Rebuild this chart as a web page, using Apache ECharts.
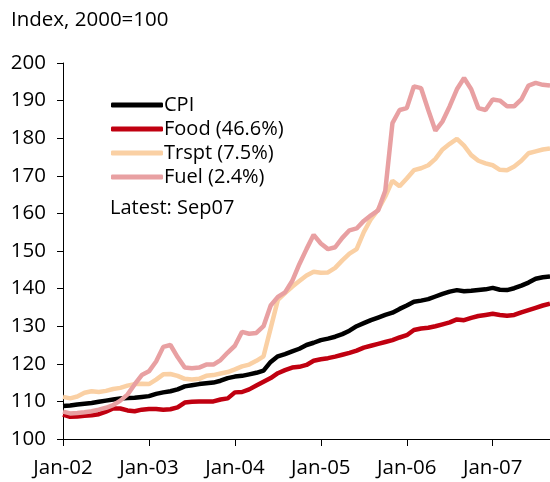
<html>
<head>
<meta charset="utf-8">
<script src="https://cdn.jsdelivr.net/npm/echarts@6/dist/echarts.min.js"></script>
</head>
<body style="margin:0">
<div id="main" style="width:550px; height:482px"></div>
<script type="text/javascript">
// monthly, Jan-02 .. Sep-07
var monthNames = ['Jan', 'Feb', 'Mar', 'Apr', 'May', 'Jun', 'Jul', 'Aug', 'Sep', 'Oct', 'Nov', 'Dec'];
var years = ['02', '03', '04', '05', '06', '07'];

var cpi = [108.8, 108.9, 109.2, 109.4, 109.6, 109.9, 110.2, 110.5, 110.8, 110.9, 111.0, 111.2,
    111.4, 112.0, 112.4, 112.7, 113.2, 114.0, 114.3, 114.6, 114.8, 115.0, 115.5, 116.2,
    116.6, 116.8, 117.2, 117.6, 118.2, 120.5, 122.0, 122.6, 123.3, 124.0, 125.0, 125.6,
    126.3, 126.7, 127.2, 127.9, 128.8, 130.0, 130.8, 131.6, 132.3, 133.0, 133.6, 134.6,
    135.5, 136.5, 136.8, 137.2, 137.9, 138.6, 139.2, 139.6, 139.3, 139.4, 139.6, 139.8,
    140.2, 139.7, 139.6, 140.1, 140.8, 141.6, 142.6, 143.0, 143.2];
var food = [106.5, 105.9, 106.0, 106.2, 106.3, 106.6, 107.3, 108.1, 108.1, 107.6, 107.4, 107.8,
    108.0, 108.0, 107.8, 107.9, 108.4, 109.7, 109.9, 110.0, 110.0, 110.0, 110.5, 110.8,
    112.4, 112.5, 113.2, 114.2, 115.2, 116.2, 117.5, 118.3, 119.0, 119.2, 119.7, 120.8,
    121.2, 121.5, 121.9, 122.4, 122.9, 123.5, 124.3, 124.8, 125.3, 125.8, 126.3, 127.0,
    127.6, 129.0, 129.4, 129.6, 130.0, 130.5, 131.0, 131.8, 131.6, 132.2, 132.7, 133.0,
    133.3, 133.0, 132.8, 133.0, 133.7, 134.3, 134.9, 135.5, 136.0];
var trspt = [111.2, 110.8, 111.3, 112.3, 112.7, 112.5, 112.8, 113.3, 113.6, 114.2, 114.6, 114.7,
    114.6, 115.8, 117.2, 117.3, 116.8, 116.0, 115.8, 116.0, 116.8, 117.0, 117.4, 117.8,
    118.5, 119.3, 119.8, 120.8, 122.0, 129.5, 137.0, 138.8, 140.5, 142.0, 143.5, 144.5,
    144.2, 144.3, 145.5, 147.5, 149.3, 150.5, 155.0, 158.5, 161.0, 164.5, 168.7, 167.2,
    169.3, 171.5, 172.0, 172.8, 174.5, 177.0, 178.5, 179.8, 178.0, 175.5, 174.0, 173.3,
    172.8, 171.6, 171.5, 172.5, 174.0, 176.0, 176.5, 177.0, 177.3];
var fuel = [107.3, 106.8, 106.9, 107.1, 107.4, 107.8, 108.3, 109.0, 110.2, 111.8, 114.5, 117.0,
    118.0, 120.6, 124.5, 125.0, 121.8, 119.0, 118.8, 119.0, 119.8, 119.8, 121.0, 123.0,
    124.8, 128.5, 128.0, 128.2, 130.0, 135.5, 137.8, 139.0, 142.0, 146.5, 150.5, 154.3,
    152.0, 150.5, 151.0, 153.5, 155.5, 156.0, 158.0, 159.5, 160.8, 166.0, 184.0, 187.5,
    188.0, 193.8, 193.3, 187.5, 182.0, 184.5, 188.5, 193.0, 196.0, 193.0, 188.0, 187.5,
    190.3, 190.0, 188.5, 188.5, 190.3, 194.0, 194.7, 194.2, 194.0];

var names = ['CPI', 'Food (46.6%)', 'Trspt (7.5%)', 'Fuel (2.4%)'];
var colors = ['#000000', '#c00010', '#fad0a4', '#e8a0a2'];

var categories = [];
for (var y = 0; y < years.length; y++) {
    for (var m = 0; m < 12; m++) {
        if (categories.length < cpi.length) categories.push(monthNames[m] + '-' + years[y]);
    }
}

var font = '"Open Sans", sans-serif';
var myChart = echarts.init(document.getElementById('main'));

function line(name, data, color) {
    return {
        name: name,
        type: 'line',
        data: data,
        showSymbol: false,
        symbol: 'none',
        lineStyle: { color: color, width: 4.5 },
        itemStyle: { color: color }
    };
}

var option = {
    animation: false,
    backgroundColor: '#fff',
    grid: { left: 63, right: -4, top: 63, bottom: 43 },
    legend: {
        orient: 'vertical',
        left: 106,
        top: 88,
        itemGap: 0,
        itemWidth: 52,
        itemHeight: 5,
        icon: 'roundRect',
        data: names,
        textStyle: { fontFamily: font, fontSize: 20, color: '#000', lineHeight: 24, padding: [0, 0, 0, -4] }
    },
    graphic: [
        { type: 'text', left: 11, top: 10, style: { text: 'Index, 2000=100', font: '20.5px ' + font, fill: '#000' } },
        { type: 'text', left: 110, top: 198, style: { text: 'Latest: Sep07', font: '20px ' + font, fill: '#000' } }
    ],
    xAxis: {
        type: 'category',
        data: categories,
        boundaryGap: false,
        axisLine: { lineStyle: { color: '#000', width: 1 } },
        axisTick: {
            length: 7,
            lineStyle: { color: '#000' },
            interval: function (i) { return i % 12 === 0; }
        },
        axisLabel: {
            interval: function (i) { return i % 12 === 0; },
            fontFamily: font,
            fontSize: 20.5,
            color: '#000',
            margin: 19
        },
        splitLine: { show: false }
    },
    yAxis: {
        type: 'value',
        min: 100,
        max: 200,
        interval: 10,
        axisLine: { show: true, lineStyle: { color: '#000', width: 1 } },
        axisTick: { show: true, length: 6, lineStyle: { color: '#000' } },
        axisLabel: { fontFamily: font, fontSize: 20.5, color: '#000', margin: 17 },
        splitLine: { show: false }
    },
    series: [
        line(names[0], cpi, colors[0]),
        line(names[1], food, colors[1]),
        line(names[2], trspt, colors[2]),
        line(names[3], fuel, colors[3])
    ]
};

myChart.setOption(option);
</script>
</body>
</html>
